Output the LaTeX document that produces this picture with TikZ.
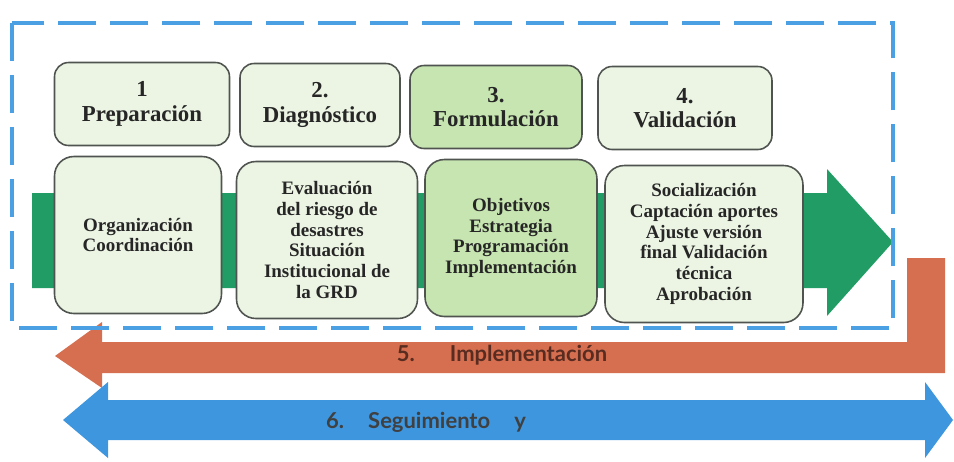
\documentclass[tikz,border=0pt]{standalone}
\usepackage{fontspec}
\setmainfont{Liberation Serif}
\newfontfamily\arrowfont{Lato}
\usetikzlibrary{arrows,backgrounds}

\definecolor{palegreen}{RGB}{236,245,228}
\definecolor{midgreen}{RGB}{198,229,176}
\definecolor{flowgreen}{RGB}{32,156,100}
\definecolor{implorange}{RGB}{214,110,80}
\definecolor{impltext}{RGB}{88,44,32}
\definecolor{seguiblue}{RGB}{62,150,222}
\definecolor{dashblue}{RGB}{75,160,228}
\definecolor{boxline}{RGB}{80,84,80}

\begin{document}
\begin{tikzpicture}[x=0.02cm, y=-0.02cm,
  phase node/.style={rectangle, rounded corners=8pt, draw=boxline, line width=0.9pt, fill=palegreen, align=center, text=black!85, font=\fontsize{13}{14}\selectfont\bfseries, minimum width=3.48cm, minimum height=1.66cm, inner sep=2pt},
  task node/.style={rectangle, rounded corners=11pt, draw=boxline, line width=0.9pt, fill=palegreen, align=center, text=black!85, font=\fontsize{10.8}{11.8}\selectfont\bfseries, minimum height=3.14cm, inner sep=2pt},
  current/.style={fill=midgreen},
  band label/.style={font=\arrowfont\bfseries\fontsize{12.5}{14}\selectfont}]

\useasboundingbox (0,0) rectangle (954,461);

\fill[flowgreen] (32,193) -- (827,193) -- (827,169) -- (893,242) -- (827,316) -- (827,288) -- (32,288) -- cycle;

\node[phase node, minimum width=3.5cm] (1) at (142,104) {1\\Preparación};
\node[phase node, minimum width=3.2cm] (2) at (320,105) {2.\\Diagnóstico};
\node[phase node, current, minimum width=3.44cm] (3) at (496,107) {3.\\Formulación};
\node[phase node] (4) at (685,108) {4.\\Validación};

\node[task node, minimum width=3.34cm] (1t) at (138,235) {Organización\\Coordinación};
\node[task node, minimum width=3.62cm] (2t) at (327,240) {Evaluación\\del riesgo de\\desastres\\Situación\\Institucional de\\la GRD};
\node[task node, current, minimum width=3.44cm] (3t) at (511,238) {Objetivos\\Estrategia\\Programación\\Implementación};
\node[task node, minimum width=3.96cm] (4t) at (704,244) {Socialización\\Captación aportes\\Ajuste versión\\final Validación\\técnica\\Aprobación};

\fill[implorange] (907,258) -- (945,258) -- (945,373) -- (102,373) -- (102,388) -- (55,356) -- (102,322) -- (102,342) -- (907,342) -- cycle;
\fill[seguiblue] (108,400) -- (925,400) -- (925,382) -- (953,420) -- (925,458) -- (925,440) -- (108,440) -- (108,458) -- (63,420) -- (108,382) -- cycle;

\node[band label, text=impltext] (5) at (502,355) {5.\hspace{1.6em}Implementación};
\node[band label, text=black!75] (6) at (426,422) {6.\hspace{1.1em}Seguimiento\hspace{1.1em}y};

\draw[dashblue, line width=2.6pt, dash pattern=on 0.76cm off 0.28cm] (12,23) rectangle (893,328);

\end{tikzpicture}
\end{document}
